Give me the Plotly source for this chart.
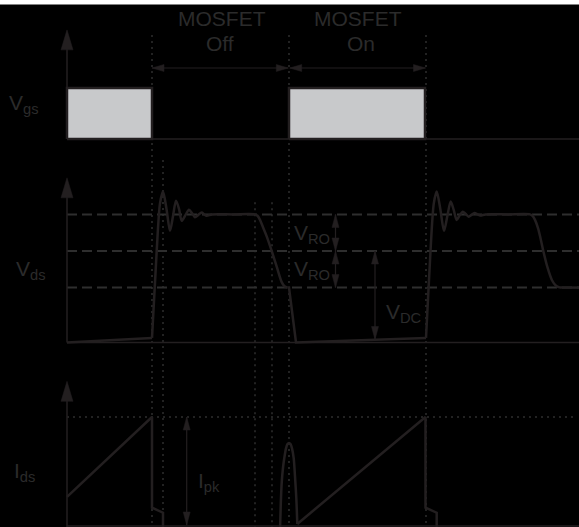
import plotly.graph_objects as go

W, H = 579, 527
LINE = "#231f20"
TEXT = "#2b2b2b"
DOT = "#2e2e2e"
FILL = "#c8c9cb"
FONT = "Liberation Sans, Arial, sans-serif"

# ---------------- data ----------------
# time axis (arbitrary units, one switching period and a bit)
t_start, t_end = 67, 579
gate_starts = [67, 289]          # MOSFET turn-on instants
gate_ends = [152, 425]           # MOSFET turn-off instants
vgs_high = 1.0

# Vds levels
VDC = 100
VRO = 40
vds_levels = [VDC - VRO, VDC, VDC + VRO]

# Vds waveform pieces
vds_on1_t = [67, 152]
vds_on1_v = [0, 5]
vds_off1_t = [152, 156.7, 160, 163, 166.5, 170, 173, 176, 179, 181.7, 185.3, 189, 192, 195,
              198.3, 201.7, 204.2, 206.7, 212, 233, 255, 257.5, 260, 263, 266.7, 271.7,
              276.7, 281.7, 284.5, 287.5]
vds_off1_v = [5, 100, 152, 165, 146, 122, 138, 155, 146, 133, 139, 145, 141.5, 137,
              139.5, 142, 140, 138.5, 140, 140, 140, 138.5, 134, 126, 116, 100,
              83, 66, 61.5, 60]
vds_on2_t = [287.5, 289, 296, 425, 426]
vds_on2_v = [60, 60, 0, 4.5, 5]
vds_off2_t = [426, 430.5, 433.8, 436.7, 440.3, 444, 447.3, 450.7, 453.7, 456.7, 459.7, 462.7,
              465.7, 468.7, 471.5, 474.5, 477.5, 480.3, 485.5, 508, 530, 532.5, 535, 538,
              540.5, 543.3, 547.5, 552, 556, 559.5, 562]
vds_off2_v = [5, 100, 152, 165, 146, 122, 138, 154, 145, 134, 139, 143,
              140.5, 137.5, 139.5, 141.5, 140, 138.8, 140, 140, 140, 138.5, 134, 125,
              114, 100, 82, 68, 62, 60.3, 60]
vds_tail_t = [562, 579]
vds_tail_v = [60, 60]

# Ids waveform pieces (normalised to Ipk = 1)
IPK = 1.0
ids_p1_t = [67, 152, 152, 163, 163]
ids_p1_v = [0.26, 1.0, 0.16, 0.114, -0.2]
ids_spike_t = [280, 280.8, 281.7, 283, 284.3, 286, 287.5, 289, 290.5, 292, 293.7, 295, 296.3, 297.3]
ids_spike_v = [-0.05, 0.2, 0.39, 0.53, 0.62, 0.71, 0.75, 0.76, 0.75, 0.71, 0.62, 0.45, 0.25, 0.01]
ids_p2_t = [297.3, 425.5, 425.5, 436.7, 436.7]
ids_p2_v = [0.01, 1.0, 0.16, 0.114, -0.2]

# dotted timing markers: time and top (in Vgs-axis units)
marker_t = [152, 163, 255, 272, 289, 426]
marker_top = [2.04, -0.41, -1.24, -1.24, 2.04, 2.04]

# ---------------- axes mapping ----------------
def span(v_a, p_a, v_b, p_b):
    k = (v_b - v_a) / (p_a - p_b)
    return [v_a - k * (H - p_a), v_a + k * p_a], k

vgs_rng, k_gs = span(0, 139, vgs_high, 88)
vds_rng, k_ds = span(0, 342.5, VDC, 251)
ids_rng, k_id = span(0, 525, IPK, 417)
K = {"y": k_gs, "y2": k_ds, "y3": k_id}

fig = go.Figure()


def add(t, v, yax="y", width=2.5, color=LINE, dash=None, shape="linear", fill=None, fillcolor=None):
    line = dict(color=color, width=width, shape=shape)
    if dash:
        line["dash"] = dash
    if shape == "spline":
        line["smoothing"] = 0.8
    fig.add_trace(go.Scatter(x=t, y=v, yaxis=yax, mode="lines", line=line, fill=fill,
                             fillcolor=fillcolor, hoverinfo="skip", showlegend=False))


def head(x, y, direction, yax, length, width):
    k = K[yax]
    if direction == "up":
        xs = [x - width / 2, x, x + width / 2, x - width / 2]
        ys = [y - length * k, y, y - length * k, y - length * k]
    elif direction == "down":
        xs = [x - width / 2, x, x + width / 2, x - width / 2]
        ys = [y + length * k, y, y + length * k, y + length * k]
    elif direction == "left":
        xs = [x + length, x, x + length, x + length]
        ys = [y - width / 2 * k, y, y + width / 2 * k, y - width / 2 * k]
    else:
        xs = [x - length, x, x - length, x - length]
        ys = [y - width / 2 * k, y, y + width / 2 * k, y - width / 2 * k]
    fig.add_trace(go.Scatter(x=xs, y=ys, yaxis=yax, mode="lines", fill="toself",
                             fillcolor=LINE, line=dict(color=LINE, width=0.5),
                             hoverinfo="skip", showlegend=False))


def varrow(x, y0, y1, yax, length=13, width=7, lw=1.2):
    add([x, x], [y0, y1], yax, width=lw)
    head(x, y0, "up" if y0 > y1 else "down", yax, length, width)
    head(x, y1, "down" if y0 > y1 else "up", yax, length, width)


def harrow(x0, x1, y, yax, length=12, width=7, lw=1.2):
    add([x0, x1], [y, y], yax, width=lw)
    head(x0, y, "left", yax, length, width)
    head(x1, y, "right", yax, length, width)


# dotted markers
for t, top in zip(marker_t, marker_top):
    add([t, t], [top, -12], "y", width=1.5, color=DOT, dash="2px,4px")

# Vgs panel
add([t_start, t_end], [0, 0], "y", width=1.5)
for s, e in zip(gate_starts, gate_ends):
    add([s, s, e, e, s], [0, vgs_high, vgs_high, 0, 0], "y", width=2.5, fill="toself", fillcolor=FILL)
add([t_start, t_start], [0, 2.14 - 18 * k_gs], "y", width=1.5)
head(t_start, 2.14, "up", "y", 20, 12)
harrow(gate_ends[0], gate_starts[1] - 0.7, 1.392, "y")
harrow(gate_starts[1] + 0.7, gate_ends[1] + 0.5, 1.392, "y")

# Vds panel
for lv in vds_levels:
    add([t_start, t_end], [lv, lv], "y2", width=2, color=DOT, dash="10px,5px")
add([t_start, t_end], [0, 0], "y2", width=1.5)
add([t_start, t_start], [0, 180 - 18 * k_ds], "y2", width=1.5)
head(t_start, 180, "up", "y2", 20, 12)
add(vds_on1_t, vds_on1_v, "y2")
add(vds_off1_t, vds_off1_v, "y2", shape="spline")
add(vds_on2_t, vds_on2_v, "y2")
add(vds_off2_t, vds_off2_v, "y2", shape="spline")
add(vds_tail_t, vds_tail_v, "y2")
varrow(335.5, VDC + VRO, VDC, "y2")
varrow(335.5, VDC, VDC - VRO, "y2")
varrow(375, VDC, 3.2, "y2")

# Ids panel
add([t_start, 575], [IPK, IPK], "y3", width=1.5, color=DOT, dash="2px,4px")
add([t_start, t_end], [-0.01, -0.01], "y3", width=1.5)
add([t_start, t_start], [-0.2, 1.33 - 18 * k_id], "y3", width=1.5)
head(t_start, 1.33, "up", "y3", 20, 12)
add(ids_p1_t, ids_p1_v, "y3")
add(ids_spike_t, ids_spike_v, "y3", shape="spline")
add(ids_p2_t, ids_p2_v, "y3")
varrow(186.7, IPK, 0, "y3")

# labels
labels = [
    ("V<sub>gs</sub>", 7, 0.69, "y", "left"),
    ("V<sub>ds</sub>", 14, 79, "y2", "left"),
    ("I<sub>ds</sub>", 12, 0.49, "y3", "left"),
    ("V<sub>RO</sub>", 292, 119, "y2", "left"),
    ("V<sub>RO</sub>", 292, 79, "y2", "left"),
    ("V<sub>DC</sub>", 384, 32, "y2", "left"),
    ("I<sub>pk</sub>", 196, 0.40, "y3", "left"),
    ("MOSFET", 222, 2.37, "y", "center"),
    ("Off", 220, 1.88, "y", "center"),
    ("MOSFET", 357.5, 2.37, "y", "center"),
    ("On", 361, 1.88, "y", "center"),
]
annotations = [dict(text=t, x=x, y=y, xref="x", yref=yr, xanchor=xa, yanchor="middle",
                    showarrow=False, font=dict(family=FONT, size=21, color=TEXT))
               for t, x, y, yr, xa in labels]

fig.update_layout(
    width=W, height=H, margin=dict(l=0, r=0, t=0, b=0),
    paper_bgcolor="black", plot_bgcolor="black", showlegend=False,
    xaxis=dict(range=[0, W], visible=False, fixedrange=True),
    yaxis=dict(range=vgs_rng, visible=False, fixedrange=True),
    yaxis2=dict(range=vds_rng, visible=False, overlaying="y", fixedrange=True),
    yaxis3=dict(range=ids_rng, visible=False, overlaying="y", fixedrange=True),
    annotations=annotations,
    shapes=[dict(type="rect", xref="paper", yref="paper", x0=0, x1=1, y0=1 - 4.5 / H, y1=1,
                 fillcolor="white", line=dict(width=0), layer="above")],
)

fig.write_html("out.html", config={"displayModeBar": False, "staticPlot": True},
               post_script="document.body.style.margin='0';document.body.style.overflow='hidden';")
